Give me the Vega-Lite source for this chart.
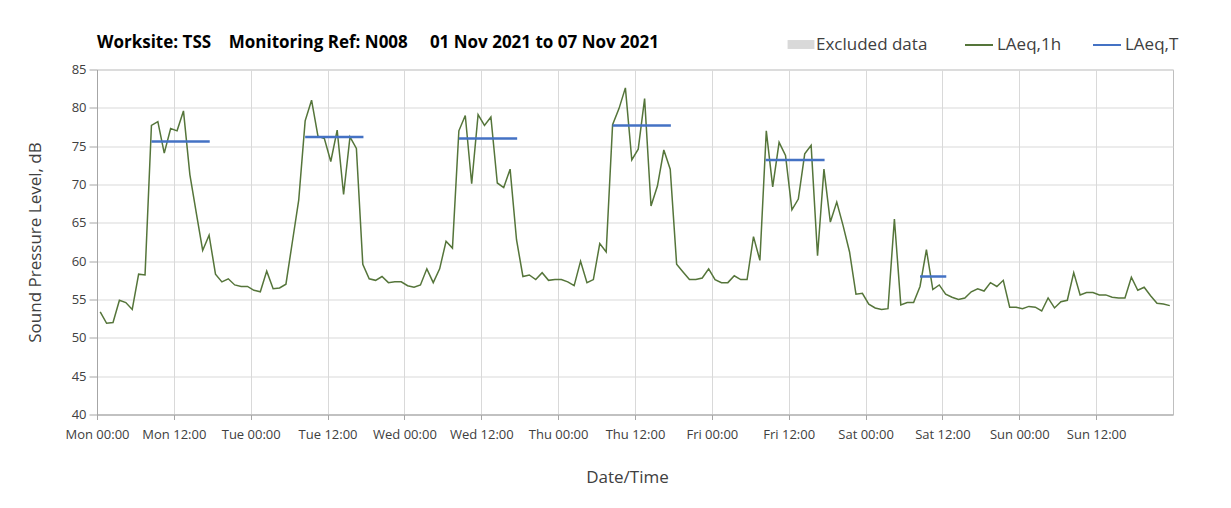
{
  "$schema": "https://vega.github.io/schema/vega-lite/v6.json",
  "width": 1076,
  "height": 345,
  "autosize": "none",
  "padding": {"left": 97, "top": 69.5, "right": 58, "bottom": 93.5},
  "background": "white",
  "title": {
    "text": "Worksite: TSS\u00a0\u00a0\u00a0\u00a0Monitoring Ref: N008\u00a0\u00a0\u00a0\u00a0\u00a001 Nov 2021 to 07 Nov 2021",
    "anchor": "start",
    "frame": "group",
    "font": "Open Sans",
    "fontSize": 17,
    "fontWeight": "bold",
    "color": "#000000",
    "offset": 18,
    "dy": 40
  },
  "config": {
    "font": "Open Sans",
    "view": {"stroke": "#bfbfbf", "strokeWidth": 1}
  },
  "layer": [
    {
      "data": {"values": []},
      "mark": "rect",
      "encoding": {
        "fill": {
          "field": "k",
          "type": "nominal",
          "scale": {"domain": ["Excluded data"], "range": ["#d9d9d9"]},
          "legend": {
            "orient": "none",
            "legendX": 695,
            "legendY": -34,
            "title": null,
            "padding": 0,
            "symbolType": "M-1.5,-0.5H1.5V0.5H-1.5Z",
            "symbolSize": 320,
            "symbolStrokeWidth": 0,
            "labelFont": "Open Sans",
            "labelFontSize": 17,
            "labelColor": "#404040",
            "labelOffset": 6
          }
        }
      }
    },
    {
      "data": {
        "values": [
          {"h": 0.5, "v": 53.4}, {"h": 1.5, "v": 51.9}, {"h": 2.5, "v": 52.0}, {"h": 3.5, "v": 54.9},
          {"h": 4.5, "v": 54.6}, {"h": 5.5, "v": 53.7}, {"h": 6.5, "v": 58.3}, {"h": 7.5, "v": 58.2},
          {"h": 8.5, "v": 77.7}, {"h": 9.5, "v": 78.2}, {"h": 10.5, "v": 74.1}, {"h": 11.5, "v": 77.3},
          {"h": 12.5, "v": 77.0}, {"h": 13.5, "v": 79.6}, {"h": 14.5, "v": 71.3}, {"h": 15.5, "v": 66.3},
          {"h": 16.5, "v": 61.4}, {"h": 17.5, "v": 63.4}, {"h": 18.5, "v": 58.3}, {"h": 19.5, "v": 57.3},
          {"h": 20.5, "v": 57.7}, {"h": 21.5, "v": 56.9}, {"h": 22.5, "v": 56.7}, {"h": 23.5, "v": 56.7},
          {"h": 24.5, "v": 56.2}, {"h": 25.5, "v": 56.0}, {"h": 26.5, "v": 58.7}, {"h": 27.5, "v": 56.4},
          {"h": 28.5, "v": 56.5}, {"h": 29.5, "v": 57.0}, {"h": 30.5, "v": 62.5}, {"h": 31.5, "v": 68.0},
          {"h": 32.5, "v": 78.3}, {"h": 33.5, "v": 81.0}, {"h": 34.5, "v": 76.3}, {"h": 35.5, "v": 76.0},
          {"h": 36.5, "v": 73.0}, {"h": 37.5, "v": 77.1}, {"h": 38.5, "v": 68.7}, {"h": 39.5, "v": 76.2},
          {"h": 40.5, "v": 74.7}, {"h": 41.5, "v": 59.6}, {"h": 42.5, "v": 57.7}, {"h": 43.5, "v": 57.5},
          {"h": 44.5, "v": 58.0}, {"h": 45.5, "v": 57.2}, {"h": 46.5, "v": 57.3}, {"h": 47.5, "v": 57.3},
          {"h": 48.5, "v": 56.8}, {"h": 49.5, "v": 56.6}, {"h": 50.5, "v": 56.9}, {"h": 51.5, "v": 59.0},
          {"h": 52.5, "v": 57.2}, {"h": 53.5, "v": 59.0}, {"h": 54.5, "v": 62.6}, {"h": 55.5, "v": 61.7},
          {"h": 56.5, "v": 77.0}, {"h": 57.5, "v": 79.0}, {"h": 58.5, "v": 70.1}, {"h": 59.5, "v": 79.1},
          {"h": 60.5, "v": 77.7}, {"h": 61.5, "v": 78.8}, {"h": 62.5, "v": 70.2}, {"h": 63.5, "v": 69.6},
          {"h": 64.5, "v": 72.0}, {"h": 65.5, "v": 62.8}, {"h": 66.5, "v": 58.0}, {"h": 67.5, "v": 58.2},
          {"h": 68.5, "v": 57.6}, {"h": 69.5, "v": 58.5}, {"h": 70.5, "v": 57.5}, {"h": 71.5, "v": 57.6},
          {"h": 72.5, "v": 57.6}, {"h": 73.5, "v": 57.3}, {"h": 74.5, "v": 56.8}, {"h": 75.5, "v": 60.0},
          {"h": 76.5, "v": 57.2}, {"h": 77.5, "v": 57.6}, {"h": 78.5, "v": 62.3}, {"h": 79.5, "v": 61.2},
          {"h": 80.5, "v": 77.8}, {"h": 81.5, "v": 79.9}, {"h": 82.5, "v": 82.6}, {"h": 83.5, "v": 73.2},
          {"h": 84.5, "v": 74.6}, {"h": 85.5, "v": 81.2}, {"h": 86.5, "v": 67.2}, {"h": 87.5, "v": 69.8},
          {"h": 88.5, "v": 74.5}, {"h": 89.5, "v": 72.0}, {"h": 90.5, "v": 59.6}, {"h": 91.5, "v": 58.6},
          {"h": 92.5, "v": 57.6}, {"h": 93.5, "v": 57.6}, {"h": 94.5, "v": 57.8}, {"h": 95.5, "v": 59.0},
          {"h": 96.5, "v": 57.6}, {"h": 97.5, "v": 57.2}, {"h": 98.5, "v": 57.2}, {"h": 99.5, "v": 58.1},
          {"h": 100.5, "v": 57.6}, {"h": 101.5, "v": 57.6}, {"h": 102.5, "v": 63.2}, {"h": 103.5, "v": 60.1},
          {"h": 104.5, "v": 77.0}, {"h": 105.5, "v": 69.7}, {"h": 106.5, "v": 75.5}, {"h": 107.5, "v": 73.8},
          {"h": 108.5, "v": 66.7}, {"h": 109.5, "v": 68.1}, {"h": 110.5, "v": 74.0}, {"h": 111.5, "v": 75.1},
          {"h": 112.5, "v": 60.7}, {"h": 113.5, "v": 72.0}, {"h": 114.5, "v": 65.1}, {"h": 115.5, "v": 67.7},
          {"h": 116.5, "v": 64.6}, {"h": 117.5, "v": 61.2}, {"h": 118.5, "v": 55.7}, {"h": 119.5, "v": 55.8},
          {"h": 120.5, "v": 54.4}, {"h": 121.5, "v": 53.9}, {"h": 122.5, "v": 53.7}, {"h": 123.5, "v": 53.8},
          {"h": 124.5, "v": 65.5}, {"h": 125.5, "v": 54.3}, {"h": 126.5, "v": 54.6}, {"h": 127.5, "v": 54.6},
          {"h": 128.5, "v": 56.7}, {"h": 129.5, "v": 61.5}, {"h": 130.5, "v": 56.3}, {"h": 131.5, "v": 56.9},
          {"h": 132.5, "v": 55.7}, {"h": 133.5, "v": 55.3}, {"h": 134.5, "v": 55.0}, {"h": 135.5, "v": 55.2},
          {"h": 136.5, "v": 56.0}, {"h": 137.5, "v": 56.4}, {"h": 138.5, "v": 56.1}, {"h": 139.5, "v": 57.2},
          {"h": 140.5, "v": 56.7}, {"h": 141.5, "v": 57.5}, {"h": 142.5, "v": 54.0}, {"h": 143.5, "v": 54.0},
          {"h": 144.5, "v": 53.8}, {"h": 145.5, "v": 54.1}, {"h": 146.5, "v": 54.0}, {"h": 147.5, "v": 53.5},
          {"h": 148.5, "v": 55.2}, {"h": 149.5, "v": 53.9}, {"h": 150.5, "v": 54.7}, {"h": 151.5, "v": 54.9},
          {"h": 152.5, "v": 58.5}, {"h": 153.5, "v": 55.6}, {"h": 154.5, "v": 55.9}, {"h": 155.5, "v": 55.9},
          {"h": 156.5, "v": 55.6}, {"h": 157.5, "v": 55.6}, {"h": 158.5, "v": 55.3}, {"h": 159.5, "v": 55.2},
          {"h": 160.5, "v": 55.2}, {"h": 161.5, "v": 57.9}, {"h": 162.5, "v": 56.2}, {"h": 163.5, "v": 56.6},
          {"h": 164.5, "v": 55.5}, {"h": 165.5, "v": 54.5}, {"h": 166.5, "v": 54.4}, {"h": 167.5, "v": 54.2}
        ]
      },
      "mark": {"type": "line", "strokeWidth": 1.5},
      "encoding": {
        "x": {
          "field": "h",
          "type": "quantitative",
          "scale": {"domain": [0, 168], "nice": false, "zero": false},
          "axis": {
            "values": [0, 12, 24, 36, 48, 60, 72, 84, 96, 108, 120, 132, 144, 156],
            "labelExpr": "['Mon','Tue','Wed','Thu','Fri','Sat','Sun'][floor(datum.value / 24)] + (datum.value % 24 == 0 ? ' 00:00' : ' 12:00')",
            "title": "Date/Time",
            "titleFont": "Open Sans",
            "titleFontSize": 17,
            "titleFontWeight": "normal",
            "titleColor": "#404040",
            "titlePadding": 28,
            "titleX": 530,
            "labelFont": "Open Sans",
            "labelFontSize": 13,
            "labelColor": "#404040",
            "labelPadding": 9,
            "labelOverlap": false,
            "labelFlush": false,
            "tickSize": 5,
            "tickColor": "#a6a6a6",
            "domainColor": "#a6a6a6",
            "gridColor": "#d9d9d9",
            "grid": true
          }
        },
        "y": {
          "field": "v",
          "type": "quantitative",
          "scale": {"domain": [40, 85], "nice": false, "zero": false},
          "axis": {
            "values": [40, 45, 50, 55, 60, 65, 70, 75, 80, 85],
            "tickCount": 10,
            "title": "Sound Pressure Level, dB",
            "titleFont": "Open Sans",
            "titleFontSize": 17,
            "titleFontWeight": "normal",
            "titleColor": "#404040",
            "titlePadding": 27,
            "labelFont": "Open Sans",
            "labelFontSize": 13,
            "labelColor": "#404040",
            "labelPadding": 3,
            "labelOverlap": false,
            "tickSize": 8,
            "tickColor": "#a6a6a6",
            "domainColor": "#a6a6a6",
            "gridColor": "#d9d9d9",
            "grid": true
          }
        },
        "color": {
          "datum": "LAeq,1h",
          "type": "nominal",
          "scale": {"domain": ["LAeq,1h", "LAeq,T"], "range": ["#55753a", "#4472c4"]},
          "legend": {
            "orient": "none",
            "legendX": 867,
            "legendY": -39.5,
            "direction": "horizontal",
            "title": null,
            "padding": 0,
            "symbolType": "stroke",
            "symbolSize": 784,
            "symbolStrokeWidth": 2,
            "columnPadding": 27,
            "labelFont": "Open Sans",
            "labelFontSize": 17,
            "labelColor": "#404040",
            "labelOffset": 3
          }
        }
      }
    },
    {
      "data": {
        "values": [
          {"s": 8.5, "e": 17.6, "v": 75.6},
          {"s": 32.5, "e": 41.6, "v": 76.2},
          {"s": 56.5, "e": 65.6, "v": 76.0},
          {"s": 80.5, "e": 89.6, "v": 77.7},
          {"s": 104.4, "e": 113.6, "v": 73.2},
          {"s": 128.5, "e": 132.6, "v": 58.0}
        ]
      },
      "mark": {"type": "rule", "strokeWidth": 2.5},
      "encoding": {
        "x": {
          "field": "s",
          "type": "quantitative",
          "axis": {
            "values": [0, 12, 24, 36, 48, 60, 72, 84, 96, 108, 120, 132, 144, 156],
            "labelExpr": "['Mon','Tue','Wed','Thu','Fri','Sat','Sun'][floor(datum.value / 24)] + (datum.value % 24 == 0 ? ' 00:00' : ' 12:00')",
            "title": "Date/Time"
          }
        },
        "x2": {"field": "e"},
        "y": {
          "field": "v",
          "type": "quantitative",
          "axis": {
            "values": [40, 45, 50, 55, 60, 65, 70, 75, 80, 85],
            "tickCount": 10,
            "title": "Sound Pressure Level, dB"
          }
        },
        "color": {
          "datum": "LAeq,T",
          "type": "nominal",
          "scale": {"domain": ["LAeq,1h", "LAeq,T"], "range": ["#55753a", "#4472c4"]}
        }
      }
    }
  ]
}
